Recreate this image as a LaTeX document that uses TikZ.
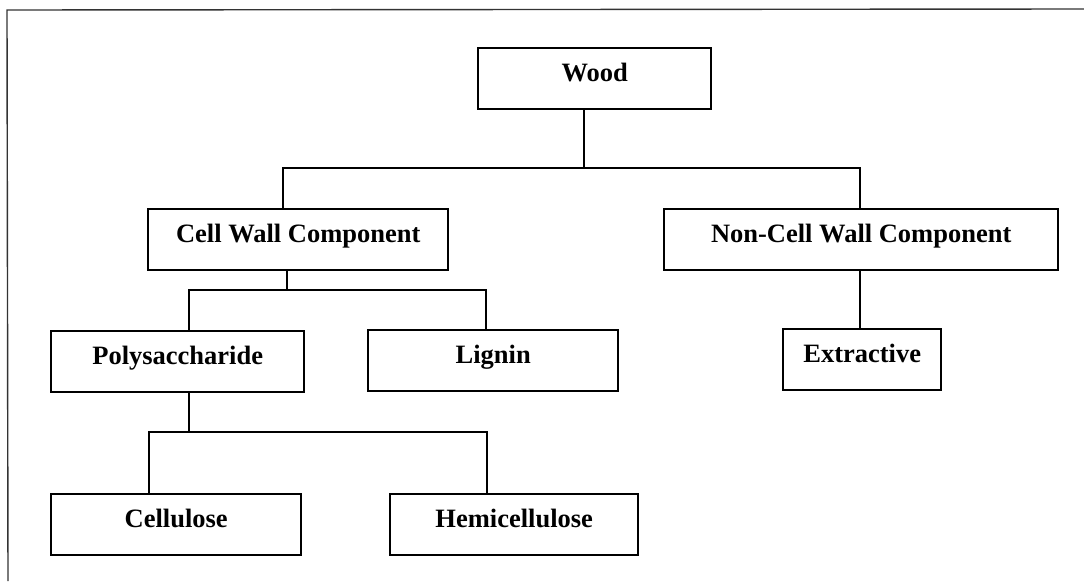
\documentclass[tikz,border=0pt]{standalone}
\usepackage{fontspec}
\setmainfont{Liberation Serif}
\begin{document}
\begin{tikzpicture}[x=1pt,y=-1pt,
  box/.style={draw, line width=2.4pt, anchor=north west, inner sep=0pt,
    minimum width=#1, text height=33pt, text depth=28pt,
    font=\fontsize{26.5}{30}\selectfont\bfseries},
  link/.style={line width=2pt},
  frame/.style={line width=1.4pt, black!80}]
  \useasboundingbox (0,0) rectangle (1084,581);
  % page frame
  \draw[frame] (1084,9) -- (7,10) -- (8,581);

  % boxes
  \node[box=233pt] (wood)   at (477,47)  {Wood};
  \node[box=300pt] (cw)     at (147,208) {Cell Wall Component};
  \node[box=394pt] (ncw)    at (663,208) {Non-Cell Wall Component};
  \node[box=253pt] (poly)   at (50,330)  {Polysaccharide};
  \node[box=250pt] (lignin) at (367,329) {Lignin};
  \node[box=158pt] (extr)   at (782,328) {Extractive};
  \node[box=250pt] (cell)   at (50,493)  {Cellulose};
  \node[box=248pt] (hemi)   at (389,493) {Hemicellulose};

  % junction points
  \coordinate (j1) at (584,168);
  \coordinate (j1l) at (283,168);
  \coordinate (j1r) at (860,168);
  \coordinate (j2) at (287,290);
  \coordinate (j2l) at (189,290);
  \coordinate (j2r) at (486,290);
  \coordinate (j3) at (189,432);
  \coordinate (j3l) at (149,432);
  \coordinate (j3r) at (487,432);

  % connectors
  \draw[link] (wood.south -| j1) -- (j1);
  \draw[link] (cw.north -| j1l) -- (j1l) -- (j1r) -- (ncw.north -| j1r);
  \draw[link] (cw.south -| j2) -- (j2);
  \draw[link] (poly.north -| j2l) -- (j2l) -- (j2r) -- (lignin.north -| j2r);
  \draw[link] (ncw.south -| j1r) -- (extr.north -| j1r);
  \draw[link] (poly.south -| j3) -- (j3);
  \draw[link] (cell.north -| j3l) -- (j3l) -- (j3r) -- (hemi.north -| j3r);
\end{tikzpicture}
\end{document}
